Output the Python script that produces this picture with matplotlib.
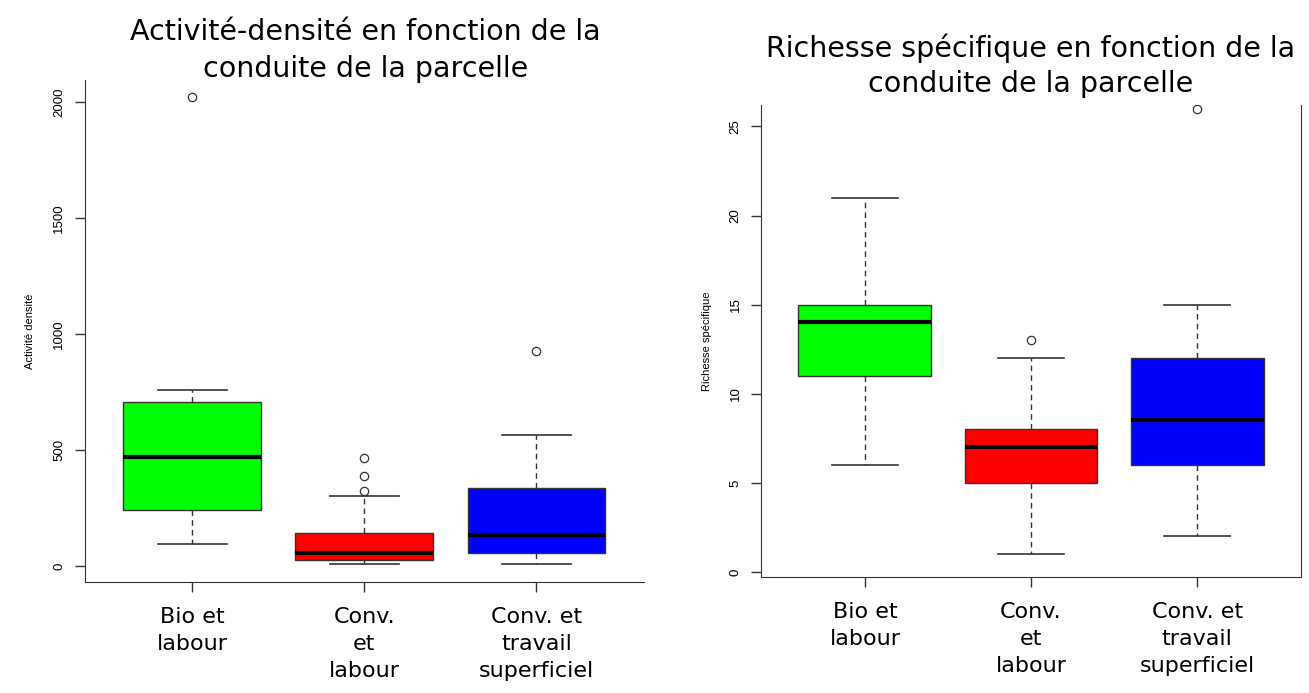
import matplotlib.pyplot as plt

# group labels (x axis)
groupes = ['Bio et\nlabour', 'Conv.\net\nlabour', 'Conv. et\ntravail\nsuperficiel']
couleurs = ['#00ff00', '#ff0000', '#0000ff']

# Activité-densité
act_q1 = [241, 26, 56]
act_med = [470, 58, 134]
act_q3 = [707, 140, 336]
act_lo = [95, 9, 9]
act_hi = [759, 302, 565]
act_out = [[2020], [323, 388, 466], [927]]

# Richesse spécifique (right panel)
ric_q1 = [11, 5, 6]
ric_med = [14, 7, 8.5]
ric_q3 = [15, 8, 12]
ric_lo = [6, 1, 2]
ric_hi = [21, 12, 15]
ric_out = [[], [13], [26]]


def make_stats(q1, med, q3, lo, hi, out):
    return [dict(q1=a, med=b, q3=c, whislo=d, whishi=e, fliers=f)
            for a, b, c, d, e, f in zip(q1, med, q3, lo, hi, out)]


def draw(ax, stats, yticks):
    res = ax.bxp(stats, positions=[1, 2, 3], widths=0.8, capwidths=0.4,
                 patch_artist=True,
                 boxprops=dict(edgecolor='#333333', linewidth=1),
                 whiskerprops=dict(color='#333333', linestyle=(0, (4, 3)), linewidth=1),
                 capprops=dict(color='#333333', linewidth=1.2),
                 medianprops=dict(color='black', linewidth=3),
                 flierprops=dict(marker='o', markersize=6, markerfacecolor='none',
                                 markeredgecolor='#333333', markeredgewidth=0.9))
    for patch, c in zip(res['boxes'], couleurs):
        patch.set_facecolor(c)
    ax.set_xlim(0.375, 3.625)
    ax.set_xticks([1, 2, 3])
    ax.set_xticklabels(groupes, fontsize=16, fontfamily='DejaVu Sans', linespacing=1.45)
    ax.tick_params(axis='x', length=7, width=1, color='#333333', pad=11)
    ax.set_yticks(yticks)
    ax.set_yticklabels([str(t) for t in yticks], rotation=90, va='center',
                       fontsize=9.5, fontfamily='Liberation Sans')
    ax.tick_params(axis='y', length=7, width=1, color='#333333', pad=7)
    ax.spines['top'].set_visible(False)
    for s in ax.spines.values():
        s.set_color('#333333')


fig = plt.figure(figsize=(13.09, 6.93), dpi=100)

ax1 = fig.add_axes([0.0646, 0.1602, 0.4274, 0.7244])
draw(ax1, make_stats(act_q1, act_med, act_q3, act_lo, act_hi, act_out),
     [0, 500, 1000, 1500, 2000])
ax1.set_ylim(-69, 2095)
ax1.spines['right'].set_visible(False)
ax1.set_ylabel('Activité densité', fontsize=8, fontfamily='Liberation Sans', labelpad=13)
fig.text(0.279, 0.974, 'Activité-densité en fonction de la\nconduite de la parcelle',
         ha='center', va='top', fontsize=20.5, fontfamily='DejaVu Sans', linespacing=1.4)

ax2 = fig.add_axes([0.5814, 0.1674, 0.4125, 0.6811])
draw(ax2, make_stats(ric_q1, ric_med, ric_q3, ric_lo, ric_hi, ric_out),
     [0, 5, 10, 15, 20, 25])
ax2.set_ylim(-0.28, 26.2)
ax2.set_ylabel('Richesse spécifique', fontsize=8, fontfamily='Liberation Sans', labelpad=13)
fig.text(0.787, 0.951, 'Richesse spécifique en fonction de la\nconduite de la parcelle',
         ha='center', va='top', fontsize=20.5, fontfamily='DejaVu Sans', linespacing=1.3)

fig.savefig('out.png', dpi=100)
